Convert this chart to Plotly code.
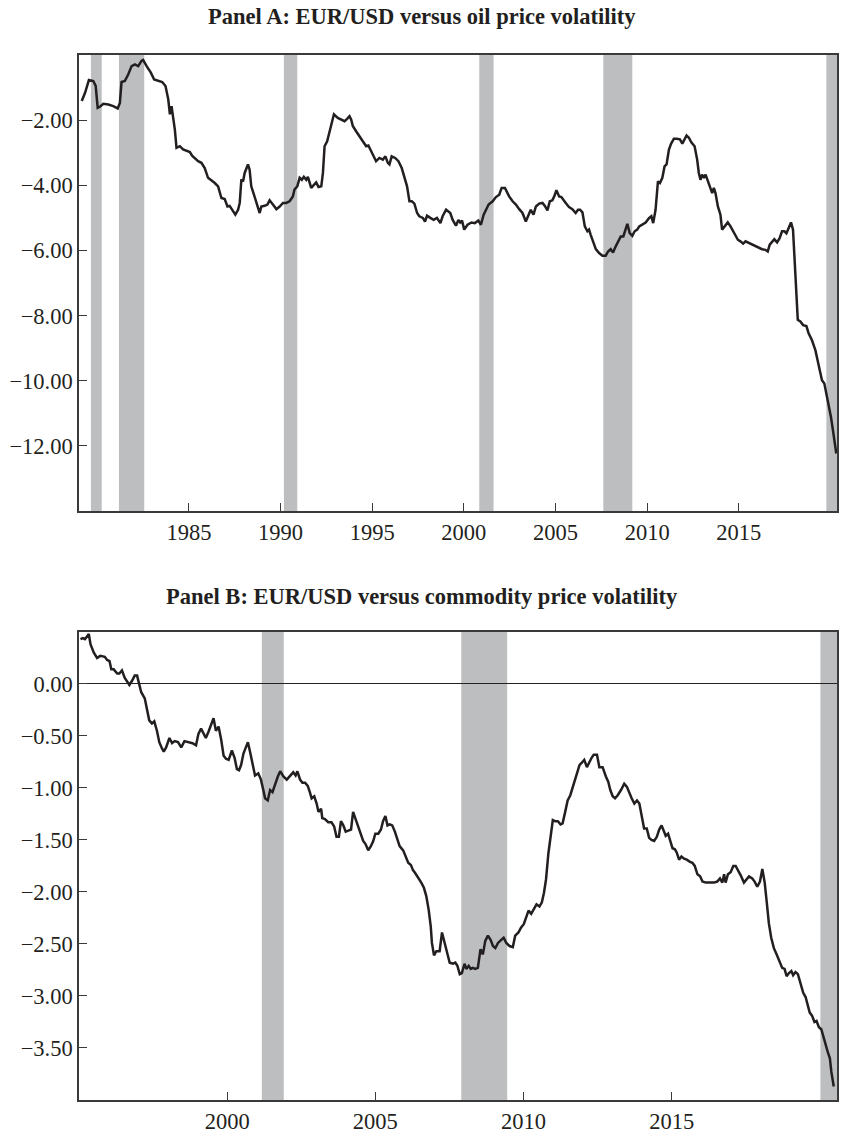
import plotly.graph_objects as go

# ---------------- Panel A data (EUR/USD vs oil price volatility) ----------------
a_year = [1979.15, 1979.33, 1979.54, 1979.78, 1979.91, 1980.02, 1980.14, 1980.33, 1980.6, 1980.87,
          1981.11, 1981.23, 1981.32, 1981.5, 1981.69, 1981.87, 1982.05, 1982.23, 1982.41, 1982.5,
          1982.69, 1982.92, 1983.1, 1983.32, 1983.54, 1983.72, 1983.87, 1983.96, 1984.05, 1984.14,
          1984.23, 1984.32, 1984.5, 1984.68, 1984.86, 1985.05, 1985.17, 1985.32, 1985.5, 1985.68,
          1985.86, 1986.04, 1986.26, 1986.41, 1986.59, 1986.77, 1986.95, 1987.1, 1987.22, 1987.41,
          1987.53, 1987.68, 1987.77, 1987.86, 1987.95, 1988.04, 1988.22, 1988.31, 1988.4, 1988.55,
          1988.68, 1988.86, 1988.95, 1989.13, 1989.28, 1989.4, 1989.58, 1989.77, 1989.95, 1990.13,
          1990.31, 1990.49, 1990.67, 1990.76, 1990.91, 1991.04, 1991.16, 1991.27, 1991.4, 1991.49,
          1991.67, 1991.82, 1991.94, 1992.07, 1992.22, 1992.31, 1992.4, 1992.54, 1992.67, 1992.8,
          1992.91, 1993.12, 1993.31, 1993.49, 1993.63, 1993.76, 1993.85, 1993.94, 1994.12, 1994.3,
          1994.54, 1994.67, 1994.79, 1994.94, 1995.12, 1995.21, 1995.39, 1995.58, 1995.72, 1995.85,
          1995.94, 1996.06, 1996.25, 1996.43, 1996.61, 1996.76, 1996.9, 1997.03, 1997.16, 1997.3,
          1997.45, 1997.57, 1997.76, 1997.88, 1997.99, 1998.17, 1998.35, 1998.53, 1998.72, 1998.84,
          1999.03, 1999.26, 1999.39, 1999.57, 1999.7, 1999.8, 1999.9,
          2000.02, 2000.2, 2000.42, 2000.6, 2000.79, 2000.93, 2001.08, 2001.2, 2001.35, 2001.57,
          2001.75, 2001.93, 2002.06, 2002.24, 2002.35, 2002.47, 2002.66, 2002.84, 2003.02, 2003.2,
          2003.38, 2003.51, 2003.65, 2003.8, 2003.93, 2004.11, 2004.29, 2004.42, 2004.56, 2004.69,
          2004.83, 2004.93, 2005.05, 2005.2, 2005.32, 2005.56, 2005.74, 2005.92, 2006.1, 2006.23,
          2006.34, 2006.47, 2006.6, 2006.74, 2006.83, 2006.92, 2007.07, 2007.2, 2007.38, 2007.56,
          2007.74, 2007.87, 2008.01, 2008.14, 2008.28, 2008.41, 2008.56, 2008.7, 2008.83, 2008.92,
          2009.05, 2009.19, 2009.32, 2009.46, 2009.57, 2009.74, 2009.92, 2010.1, 2010.23, 2010.33,
          2010.46, 2010.59, 2010.7, 2010.83, 2010.95, 2011.06, 2011.19, 2011.31, 2011.46, 2011.61,
          2011.79, 2011.92, 2012.04, 2012.15, 2012.28, 2012.41, 2012.59, 2012.73, 2012.82, 2012.91,
          2013.0, 2013.1, 2013.19, 2013.28, 2013.42, 2013.55, 2013.64, 2013.73, 2013.86, 2014.0,
          2014.09, 2014.22, 2014.4, 2014.55, 2014.69, 2014.82, 2014.95, 2015.09, 2015.24, 2015.37,
          2015.55, 2015.73, 2015.91, 2016.09, 2016.27, 2016.45, 2016.58, 2016.69, 2016.82, 2016.94,
          2017.09, 2017.23, 2017.36, 2017.49, 2017.6, 2017.72, 2017.85, 2017.96, 2018.03, 2018.14,
          2018.22, 2018.36, 2018.51, 2018.69, 2018.81, 2018.99, 2019.18, 2019.36, 2019.54, 2019.67,
          2019.78, 2019.9, 2020.03, 2020.14, 2020.23, 2020.32]
a_value = [-1.41, -1.16, -0.77, -0.80, -0.95, -1.62, -1.59, -1.50, -1.52, -1.57,
           -1.64, -1.47, -0.83, -0.80, -0.59, -0.34, -0.29, -0.34, -0.18, -0.15,
           -0.34, -0.54, -0.75, -0.80, -0.83, -0.95, -1.36, -1.82, -1.57, -1.93,
           -2.29, -2.85, -2.80, -2.90, -2.95, -2.98, -3.09, -3.16, -3.26, -3.31,
           -3.47, -3.77, -3.86, -3.93, -4.03, -4.39, -4.42, -4.65, -4.63, -4.80,
           -4.90, -4.75, -4.54, -3.82, -3.88, -3.62, -3.36, -3.52, -4.03, -4.29,
           -4.54, -4.85, -4.65, -4.63, -4.59, -4.46, -4.59, -4.73, -4.65, -4.54,
           -4.54, -4.49, -4.34, -4.13, -4.03, -3.77, -3.83, -3.74, -3.83, -3.74,
           -4.08, -3.98, -3.91, -4.05, -4.03, -3.62, -2.80, -2.65, -2.34, -2.13,
           -1.82, -1.93, -1.98, -2.03, -1.96, -1.88, -1.98, -2.18, -2.34, -2.49,
           -2.68, -2.80, -2.78, -2.95, -3.11, -3.26, -3.16, -3.21, -3.11, -3.31,
           -3.36, -3.11, -3.16, -3.26, -3.47, -3.77, -4.03, -4.49, -4.49, -4.56,
           -4.85, -4.95, -5.00, -5.11, -4.93, -5.00, -5.06, -5.00, -5.16, -4.95,
           -4.75, -4.85, -5.06, -5.24, -5.06, -5.14, -5.08,
           -5.36, -5.21, -5.14, -5.16, -5.08, -5.21, -4.90, -4.75, -4.59, -4.49,
           -4.36, -4.29, -4.08, -4.08, -4.21, -4.34, -4.49, -4.59, -4.73, -4.85,
           -5.11, -4.95, -4.75, -4.90, -4.65, -4.56, -4.54, -4.63, -4.77, -4.49,
           -4.46, -4.34, -4.15, -4.34, -4.36, -4.54, -4.67, -4.73, -4.85, -4.75,
           -4.75, -4.83, -5.26, -5.41, -5.36, -5.52, -5.77, -5.96, -6.08, -6.16,
           -6.16, -6.03, -5.96, -6.06, -5.88, -5.72, -5.57, -5.57, -5.31, -5.18,
           -5.47, -5.55, -5.41, -5.36, -5.26, -5.21, -5.14, -5.01, -4.95, -5.16,
           -4.75, -3.88, -3.93, -3.77, -3.42, -3.36, -2.90, -2.72, -2.57, -2.57,
           -2.59, -2.72, -2.57, -2.47, -2.54, -2.68, -2.80, -3.21, -3.62, -3.83,
           -3.67, -3.77, -3.67, -3.83, -4.03, -4.24, -4.08, -4.24, -4.65, -4.90,
           -5.36, -5.26, -5.14, -5.26, -5.41, -5.52, -5.67, -5.72, -5.79, -5.72,
           -5.77, -5.82, -5.88, -5.93, -5.96, -5.98, -6.03, -5.82, -5.72, -5.65,
           -5.75, -5.62, -5.41, -5.41, -5.47, -5.31, -5.14, -5.36, -6.18, -7.21,
           -8.13, -8.18, -8.29, -8.32, -8.54, -8.75, -9.06, -9.52, -9.98, -10.08,
           -10.39, -10.70, -11.11, -11.52, -11.93, -12.23]
a_rec_start = [1979.65, 1981.18, 1990.18, 2000.84, 2007.61, 2019.78]
a_rec_end = [1980.24, 1982.56, 1990.91, 2001.62, 2009.19, 2020.40]
a_xticks = [1985, 1990, 1995, 2000, 2005, 2010, 2015]
a_yticks = [-2, -4, -6, -8, -10, -12]

# ---------------- Panel B data (EUR/USD vs commodity price volatility) ----------------
b_year = [1995.05, 1995.13, 1995.2, 1995.27, 1995.33, 1995.39, 1995.5, 1995.61, 1995.72, 1995.87,
          1995.95, 1996.03, 1996.09, 1996.17, 1996.29, 1996.36, 1996.45, 1996.54, 1996.62, 1996.7,
          1996.79, 1996.88, 1996.96, 1997.04, 1997.1, 1997.22, 1997.29, 1997.37, 1997.46, 1997.54,
          1997.63, 1997.71, 1997.8, 1997.86, 1997.94, 1998.05, 1998.14, 1998.23, 1998.34, 1998.45,
          1998.56, 1998.68, 1998.75, 1998.83, 1998.95, 1999.03, 1999.12, 1999.2, 1999.28, 1999.37,
          1999.46, 1999.54, 1999.62, 1999.71, 1999.8, 1999.88, 1999.96, 2000.05, 2000.16, 2000.25,
          2000.33, 2000.4, 2000.47, 2000.55, 2000.63, 2000.7, 2000.77, 2000.85, 2000.94, 2001.05,
          2001.14, 2001.22, 2001.28, 2001.37, 2001.45, 2001.53, 2001.62, 2001.71, 2001.79, 2001.9,
          2002.01, 2002.12, 2002.23, 2002.31, 2002.37, 2002.46, 2002.54, 2002.63, 2002.72, 2002.79,
          2002.85, 2002.94, 2003.02, 2003.08, 2003.17, 2003.21, 2003.3, 2003.41, 2003.52, 2003.61,
          2003.69, 2003.77, 2003.84, 2003.92, 2004.0, 2004.09, 2004.18, 2004.25, 2004.33, 2004.42,
          2004.51, 2004.59, 2004.67, 2004.76, 2004.85, 2004.93, 2005.0, 2005.1, 2005.19, 2005.26,
          2005.34, 2005.41, 2005.49, 2005.57, 2005.66, 2005.75, 2005.82, 2005.94, 2006.02, 2006.11,
          2006.2, 2006.27, 2006.35, 2006.47, 2006.55, 2006.64, 2006.72, 2006.8, 2006.87, 2006.91,
          2006.98, 2007.06, 2007.17, 2007.25, 2007.34, 2007.43, 2007.51, 2007.62, 2007.7, 2007.77,
          2007.85, 2007.92, 2008.01, 2008.07, 2008.15, 2008.22, 2008.29, 2008.37, 2008.46, 2008.55,
          2008.63, 2008.71, 2008.8, 2008.89, 2008.97, 2009.05, 2009.14, 2009.25, 2009.33, 2009.42,
          2009.53, 2009.64, 2009.72, 2009.83, 2009.92, 2010.01, 2010.09, 2010.17, 2010.26, 2010.35,
          2010.44, 2010.54, 2010.62, 2010.69, 2010.76, 2010.84, 2010.93, 2010.99, 2011.07, 2011.16,
          2011.25, 2011.32, 2011.4, 2011.49, 2011.58, 2011.66, 2011.74, 2011.81, 2011.89, 2011.96,
          2012.05, 2012.14, 2012.22, 2012.3, 2012.37, 2012.48, 2012.56, 2012.67, 2012.78, 2012.86,
          2012.93, 2013.01, 2013.09, 2013.18, 2013.29, 2013.4, 2013.49, 2013.57, 2013.65, 2013.74,
          2013.83, 2013.91, 2013.99, 2014.07, 2014.16, 2014.24, 2014.32, 2014.41, 2014.5, 2014.58,
          2014.66, 2014.73, 2014.8, 2014.88, 2014.95, 2015.03, 2015.11, 2015.17, 2015.25, 2015.33,
          2015.42, 2015.51, 2015.62, 2015.7, 2015.78, 2015.87, 2015.96, 2016.04, 2016.15, 2016.3,
          2016.43, 2016.54, 2016.63, 2016.71, 2016.77, 2016.82, 2016.9, 2016.99, 2017.08, 2017.16,
          2017.24, 2017.33, 2017.44, 2017.53, 2017.61, 2017.72, 2017.8, 2017.89, 2017.98, 2018.06,
          2018.14, 2018.21, 2018.28, 2018.36, 2018.45, 2018.54, 2018.62, 2018.73, 2018.81, 2018.88,
          2018.96, 2019.04, 2019.1, 2019.18, 2019.26, 2019.35, 2019.44, 2019.52, 2019.6, 2019.66,
          2019.74, 2019.82, 2019.89, 2019.97, 2020.05, 2020.11, 2020.19, 2020.27, 2020.34, 2020.39,
          2020.47]
b_value = [0.43, 0.44, 0.43, 0.46, 0.48, 0.38, 0.30, 0.25, 0.27, 0.26,
           0.23, 0.22, 0.14, 0.14, 0.10, 0.10, 0.13, 0.06, 0.02, -0.01,
           0.03, 0.08, 0.08, -0.02, -0.08, -0.14, -0.24, -0.35, -0.38, -0.36,
           -0.45, -0.56, -0.62, -0.65, -0.61, -0.52, -0.57, -0.55, -0.56, -0.61,
           -0.55, -0.56, -0.57, -0.57, -0.59, -0.48, -0.43, -0.47, -0.52, -0.46,
           -0.38, -0.33, -0.45, -0.41, -0.54, -0.69, -0.72, -0.73, -0.64, -0.71,
           -0.82, -0.83, -0.78, -0.67, -0.61, -0.56, -0.65, -0.77, -0.88, -0.86,
           -0.92, -1.02, -1.10, -1.12, -1.02, -1.04, -0.96, -0.89, -0.84, -0.89,
           -0.92, -0.88, -0.85, -0.88, -0.84, -0.92, -0.95, -0.95, -0.98, -1.04,
           -1.10, -1.08, -1.15, -1.23, -1.20, -1.29, -1.30, -1.33, -1.33, -1.37,
           -1.47, -1.47, -1.32, -1.36, -1.42, -1.41, -1.40, -1.23, -1.30, -1.36,
           -1.45, -1.51, -1.54, -1.60, -1.56, -1.51, -1.44, -1.44, -1.40, -1.32,
           -1.27, -1.36, -1.35, -1.36, -1.42, -1.50, -1.56, -1.60, -1.65, -1.72,
           -1.74, -1.79, -1.82, -1.87, -1.91, -1.96, -2.04, -2.17, -2.33, -2.49,
           -2.61, -2.57, -2.57, -2.39, -2.49, -2.61, -2.68, -2.69, -2.68, -2.71,
           -2.79, -2.78, -2.69, -2.74, -2.71, -2.74, -2.73, -2.74, -2.73, -2.55,
           -2.60, -2.47, -2.42, -2.46, -2.52, -2.54, -2.49, -2.46, -2.44, -2.49,
           -2.52, -2.53, -2.42, -2.39, -2.34, -2.31, -2.25, -2.18, -2.21, -2.16,
           -2.12, -2.14, -2.10, -2.01, -1.88, -1.63, -1.44, -1.31, -1.32, -1.32,
           -1.35, -1.34, -1.24, -1.12, -1.07, -0.99, -0.93, -0.86, -0.78, -0.76,
           -0.73, -0.80, -0.75, -0.71, -0.68, -0.68, -0.80, -0.80, -0.89, -0.94,
           -1.02, -1.08, -1.10, -1.07, -1.02, -0.96, -0.99, -1.05, -1.10, -1.15,
           -1.12, -1.15, -1.28, -1.39, -1.39, -1.48, -1.50, -1.51, -1.47, -1.40,
           -1.36, -1.41, -1.46, -1.44, -1.51, -1.58, -1.59, -1.62, -1.69, -1.66,
           -1.68, -1.69, -1.71, -1.72, -1.75, -1.83, -1.85, -1.90, -1.91, -1.91,
           -1.91, -1.90, -1.87, -1.91, -1.83, -1.91, -1.83, -1.81, -1.75, -1.75,
           -1.79, -1.84, -1.91, -1.88, -1.85, -1.87, -1.90, -1.95, -1.90, -1.78,
           -1.91, -2.10, -2.30, -2.44, -2.54, -2.60, -2.66, -2.73, -2.74, -2.81,
           -2.78, -2.76, -2.80, -2.77, -2.79, -2.89, -2.97, -3.01, -3.09, -3.16,
           -3.19, -3.25, -3.24, -3.30, -3.32, -3.38, -3.48, -3.54, -3.60, -3.73,
           -3.87]
b_rec_start = [2001.17, 2007.90, 2020.02]
b_rec_end = [2001.91, 2009.45, 2020.60]
b_xticks = [2000, 2005, 2010, 2015]
b_yticks = [0.0, -0.5, -1.0, -1.5, -2.0, -2.5, -3.0, -3.5]

titles = ["Panel A: EUR/USD versus oil price volatility",
          "Panel B: EUR/USD versus commodity price volatility"]

# ---------------- Figure ----------------
W, H = 841, 1136
ML, MR, MT, MB = 79, 2, 55, 34
plot_h = H - MT - MB

def py2paper(ypx):
    return (H - MB - ypx) / plot_h

FONT = "Liberation Serif, Times New Roman, serif"
TXT = "#231f20"
AX = "#3a3a3a"
SHADE = "#bcbec0"

fig = go.Figure()
fig.add_trace(go.Scatter(x=a_year, y=a_value, mode="lines", xaxis="x", yaxis="y",
                         line=dict(color=TXT, width=2.5), showlegend=False, hoverinfo="skip"))
fig.add_trace(go.Scatter(x=b_year, y=b_value, mode="lines", xaxis="x2", yaxis="y2",
                         line=dict(color=TXT, width=2.5), showlegend=False, hoverinfo="skip"))

shapes = []
for s, e in zip(a_rec_start, a_rec_end):
    shapes.append(dict(type="rect", xref="x", yref="y domain", x0=s, x1=e, y0=0, y1=1,
                       fillcolor=SHADE, line=dict(width=0), layer="below"))
for s, e in zip(b_rec_start, b_rec_end):
    shapes.append(dict(type="rect", xref="x2", yref="y2 domain", x0=s, x1=e, y0=0, y1=1,
                       fillcolor=SHADE, line=dict(width=0), layer="below"))

axis_common = dict(showgrid=False, showline=True, linecolor=AX, linewidth=1.5, mirror=True,
                   ticks="inside", ticklen=8, tickwidth=1.3, tickcolor=AX,
                   tickfont=dict(family=FONT, size=22.5, color=TXT))

a_top = py2paper(55)
a_bot = py2paper(512)
b_top = py2paper(633)

fig.update_layout(
    width=W, height=H,
    margin=dict(l=ML, r=MR, t=MT, b=MB, pad=0),
    paper_bgcolor="white", plot_bgcolor="white",
    shapes=shapes,
    xaxis=dict(domain=[0, 1], anchor="y", range=[1979.0, 2020.36], tickvals=a_xticks,
               ticktext=[str(v) for v in a_xticks], zeroline=False, **axis_common),
    yaxis=dict(domain=[a_bot, a_top], anchor="x", range=[-14, 0], tickvals=a_yticks,
               tickformat=".2f", zeroline=False, **axis_common),
    xaxis2=dict(domain=[0, 1], anchor="y2", range=[1995.0, 2020.58], tickvals=b_xticks,
                ticktext=[str(v) for v in b_xticks], zeroline=False, **axis_common),
    yaxis2=dict(domain=[0, b_top], anchor="x2", range=[-4.0, 0.5], tickvals=b_yticks,
                tickformat=".2f", zeroline=True, zerolinecolor="#222222", zerolinewidth=1.3,
                **axis_common),
    annotations=[
        dict(text="<b>" + titles[0] + "</b>", xref="paper", yref="paper", x=0.452, y=py2paper(16),
             xanchor="center", yanchor="middle", showarrow=False,
             font=dict(family=FONT, size=22.5, color=TXT)),
        dict(text="<b>" + titles[1] + "</b>", xref="paper", yref="paper", x=0.452, y=py2paper(598),
             xanchor="center", yanchor="middle", showarrow=False,
             font=dict(family=FONT, size=22.5, color=TXT)),
    ],
)

post = ("document.documentElement.style.margin='0';document.documentElement.style.overflow='hidden';"
        "document.body.style.margin='0';document.body.style.padding='0';document.body.style.overflow='hidden';")
fig.write_html("out.html", post_script=post, config={"displayModeBar": False})
